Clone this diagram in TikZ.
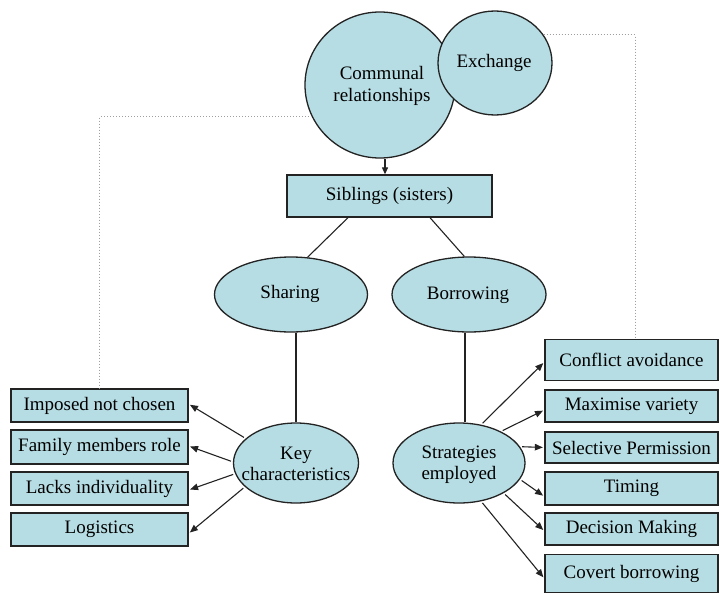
\documentclass[tikz,border=0pt]{standalone}
\usepackage{fontspec}
\newfontfamily\tnrfont{LiberationSerif}[Extension=.ttf, UprightFont=*-Regular]
\usetikzlibrary{arrows.meta,calc,shapes.geometric}
\definecolor{fillblue}{RGB}{182,221,227}
\definecolor{edgecol}{RGB}{35,35,35}
\begin{document}
\begin{tikzpicture}[x=1pt,y=-1pt,
  every node/.style={font=\tnrfont\fontsize{19}{21.5}\selectfont, text=black, inner sep=0pt},
  boxnode/.style={draw=edgecol, line width=1.3pt, fill=fillblue, rectangle, align=center},
  ellnode/.style={draw=edgecol, line width=1.3pt, fill=fillblue, ellipse},
  txt/.style={align=center},
  conn/.style={draw=edgecol, line width=1.1pt},
  arr/.style={conn, -{Triangle[length=8pt,width=6.5pt]}, shorten <=2pt, shorten >=1.5pt},
  dots/.style={draw=gray!75, line width=1pt, dotted}]
\fill[white] (0,0) rectangle (719,594);
\useasboundingbox (0,0) rectangle (719,594);

% circles
\node[ellnode, minimum width=150pt, minimum height=146pt] (comm) at (380,85) {};
\node[txt] (commt) at (382,86) {Communal\\relationships};
\node[ellnode, minimum width=114pt, minimum height=104pt] (exch) at (495,63) {};
\node[txt] (excht) at (494,63) {Exchange};

% siblings
\node[boxnode, minimum width=205pt, minimum height=42pt] (sib) at (389.5,196) {Siblings (sisters)};

% middle ellipses
\node[ellnode, minimum width=153pt, minimum height=75pt] (shar) at (291,294.5) {};
\node[txt] (shart) at (290,294) {Sharing};
\node[ellnode, minimum width=154pt, minimum height=75pt] (bor) at (469,294.5) {};
\node[txt] (bort) at (468,295) {Borrowing};
\node[ellnode, minimum width=125pt, minimum height=80pt] (key) at (296,463) {};
\node[txt] (keyt) at (296,464) {Key\\characteristics};
\node[ellnode, minimum width=132pt, minimum height=80pt] (strat) at (459,463) {};
\node[txt] (stratt) at (459,465) {Strategies\\employed};

% left boxes
\node[boxnode, minimum width=177pt, minimum height=33pt] (imp) at (99.5,405.5) {Imposed not chosen};
\node[boxnode, minimum width=177pt, minimum height=34pt] (fam) at (99.5,447) {Family members role};
\node[boxnode, minimum width=177pt, minimum height=33pt] (lacks) at (99.5,488.5) {Lacks individuality};
\node[boxnode, minimum width=177pt, minimum height=33pt] (logi) at (99.5,529.5) {Logistics};

% right boxes
\node[boxnode, minimum width=173pt, minimum height=41pt] (conf) at (631.5,360) {Conflict avoidance};
\node[boxnode, minimum width=173pt, minimum height=32pt] (maxv) at (631.5,406) {Maximise variety};
\node[boxnode, minimum width=173pt, minimum height=31pt] (sel) at (631.5,447.5) {Selective Permission};
\node[boxnode, minimum width=173pt, minimum height=33pt] (tim) at (631.5,488.5) {Timing};
\node[boxnode, minimum width=173pt, minimum height=32pt] (dec) at (631.5,529) {Decision Making};
\node[boxnode, minimum width=173pt, minimum height=38pt] (cov) at (631.5,573.5) {Covert borrowing};

% arrow communal -> siblings
\coordinate (ca) at ($(comm.south)+(5,0)$);
\draw[conn, -{Triangle[length=7pt,width=6pt]}] (ca) -- (ca |- sib.north);

% siblings -> sharing / borrowing
\draw[conn] ($(sib.south)+(-41.5,0)$) -- (shar.66);
\draw[conn] ($(sib.south)+(40.5,0)$) -- (bor.97);

% verticals
\draw[conn] (key.north |- shar.south) -- (key.north);
\coordinate (bb) at ($(bor.south)+(-4,0)$);
\draw[conn] (bb) -- (bb |- strat.north);

% key -> left boxes
\draw[arr] (key.154) -- ($(imp.east)+(0,-1.5)$);
\draw[arr] (key.179) -- ($(fam.east)+(0,-1)$);
\draw[arr] (key.190) -- ($(lacks.east)+(0,1.5)$);
\draw[arr] (key.205) -- ($(logi.east)+(0,4)$);

% strategies -> right boxes
\draw[arr] (strat.60) -- ($(conf.west)+(0,2)$);
\draw[arr] (strat.37) -- ($(maxv.west)+(0,4)$);
\draw[arr] (strat.15) -- (sel.west);
\draw[arr] (strat.-15) -- ($(tim.west)+(0,8)$);
\draw[arr] (strat.-34) -- ($(dec.west)+(0,2)$);
\draw[arr] (strat.-60) -- ($(cov.west)+(0,5)$);

% dotted links
\draw[dots] (comm.205) -| (imp.north);
\coordinate (ctop) at ($(conf.north)+(3.5,0)$);
\draw[dots] (exch.30) -| (ctop);
\end{tikzpicture}
\end{document}
